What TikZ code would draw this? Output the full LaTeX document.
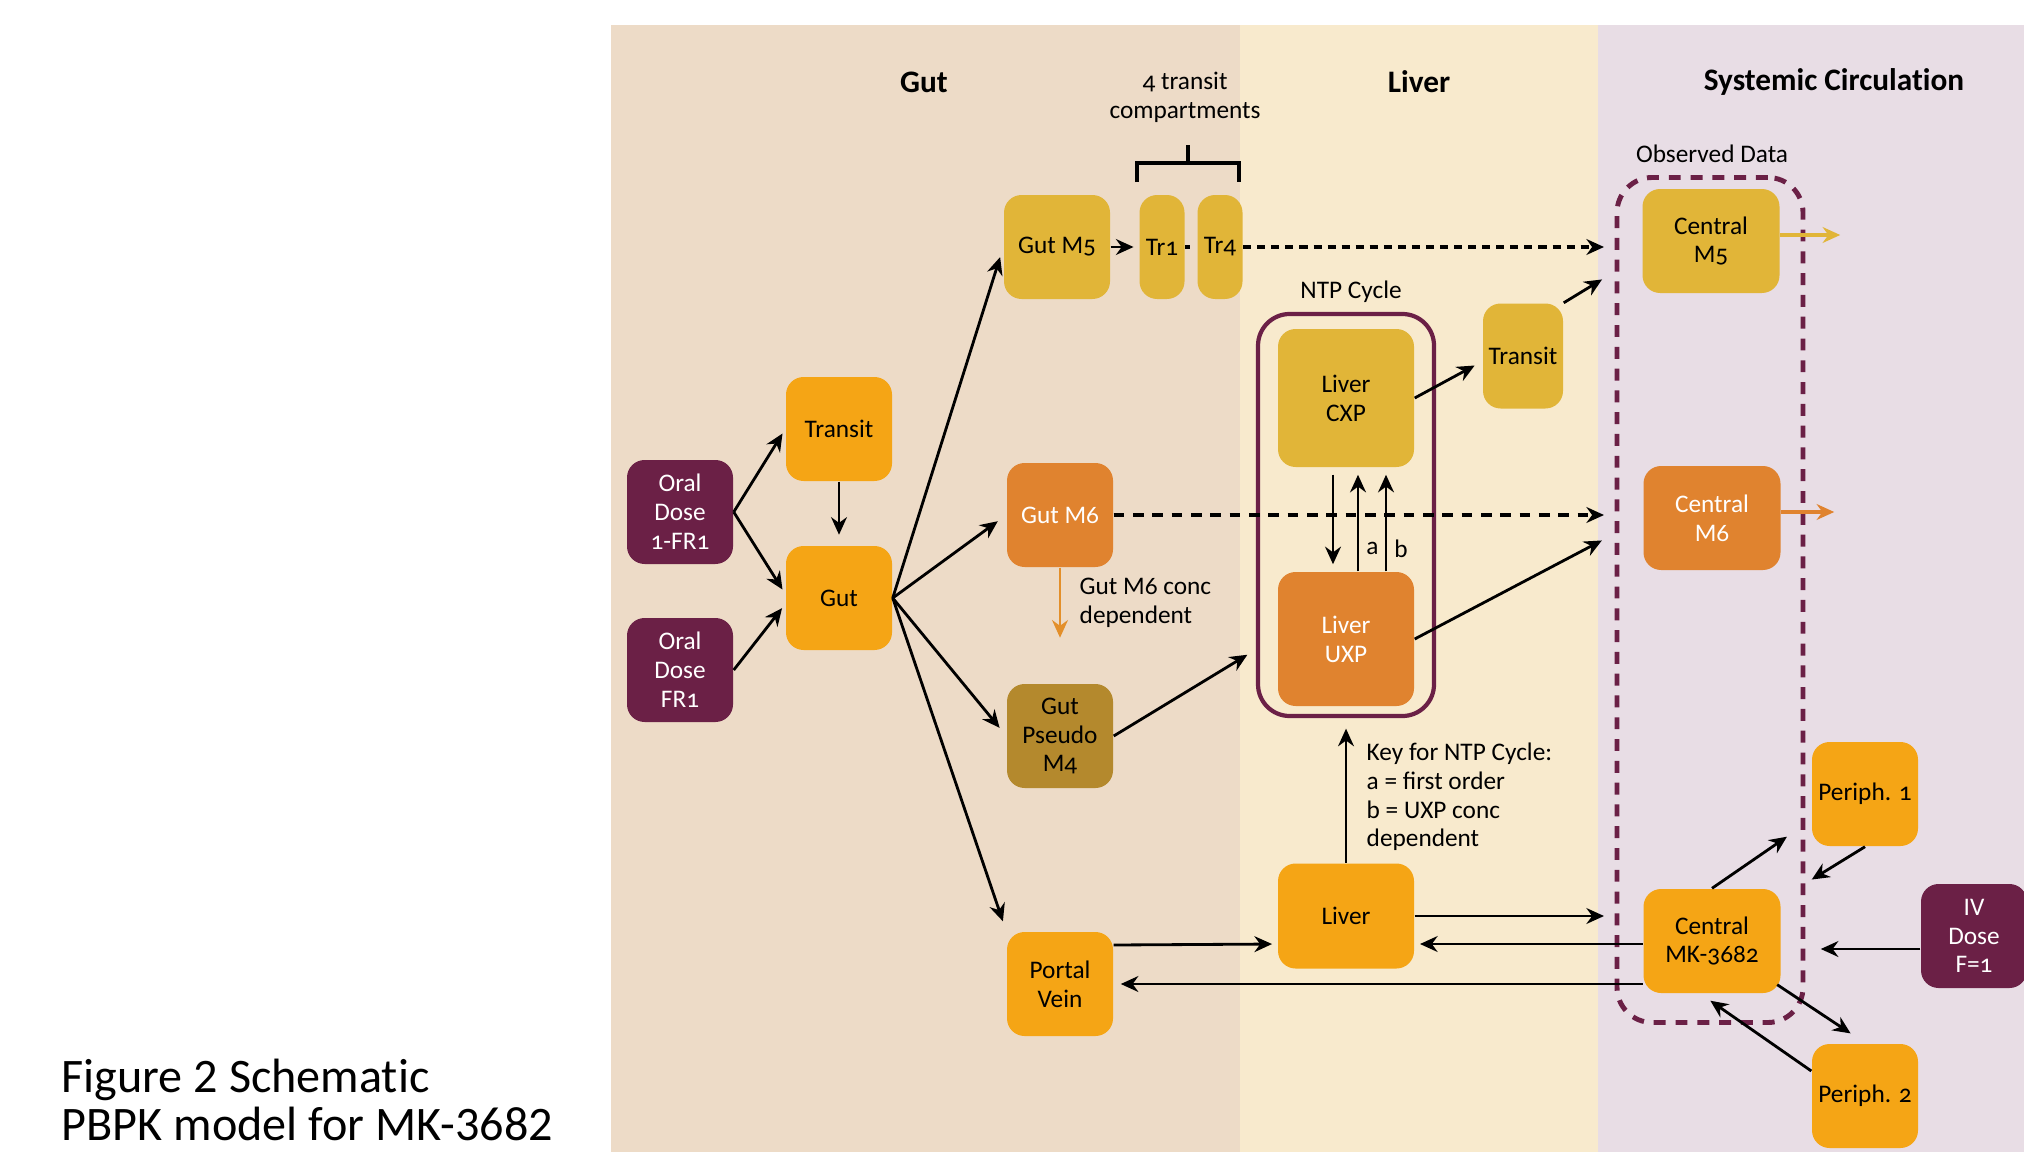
\documentclass[tikz,border=0pt]{standalone}
\usepackage{fontspec}
\setmainfont{Carlito}[Numbers=OldStyle]
\newfontfamily\capfont{Carlito}[Ligatures=NoCommon]
\newfontfamily\titlefont{Carlito}[Ligatures=NoCommon]
\usepackage{xcolor}
\usepackage{tikz}
\usetikzlibrary{arrows.meta, positioning, calc}

\definecolor{dosepurple}{HTML}{6B2046}
\definecolor{gutorange}{HTML}{F5A515}
\definecolor{mustard}{HTML}{E1B538}
\definecolor{darkorange}{HTML}{E0832F}
\definecolor{pseudobrown}{HTML}{B4892D}
\definecolor{gutbg}{HTML}{EDDBC7}
\definecolor{liverbg}{HTML}{F8EACD}
\definecolor{sysbg}{HTML}{E8DDE5}

\tikzset{
  box/.style={rectangle, rounded corners=5pt, minimum width=1.06cm, minimum height=1.04cm,
    inner sep=1pt, align=center, font=\fontsize{7.2}{8.2}\selectfont},
  dosebox/.style={box, fill=dosepurple, text=white},
  orbox/.style={box, fill=gutorange},
  mubox/.style={box, fill=mustard},
  dobox/.style={box, fill=darkorange, text=white},
  lbl/.style={font=\fontsize{7.2}{8.2}\selectfont, inner sep=0pt},
  title/.style={font=\titlefont\bfseries\fontsize{8.9}{10}\selectfont},
  arr/.style={-{Stealth[length=5pt,width=4.5pt]}, line width=0.8pt, shorten >=1.5pt},
  dotarrow/.style={arr, line width=1pt, dash pattern=on 2.3pt off 1.7pt},
  dasharrow/.style={arr, line width=0.9pt, dash pattern=on 3pt off 2.5pt}
}

\begin{document}
\begin{tikzpicture}
  \useasboundingbox (0,0) rectangle (20.24,-11.52);

  % Backgrounds of the three regions
  \fill[gutbg] (6.11,-0.25) rectangle (12.40,-11.52);
  \fill[liverbg] (12.40,-0.25) rectangle (15.98,-11.52);
  \fill[sysbg] (15.98,-0.25) rectangle (20.24,-11.52);

  % Region titles
  \node[title] (tgut) at (9.24,-0.82) {Gut};
  \node[title] (tliver) at (14.19,-0.82) {Liver};
  \node[title] (tsys) at (18.34,-0.82) {Systemic Circulation};

  % Caption
  \node[anchor=base west, inner sep=0pt, font=\capfont\fontsize{13.7}{14}\selectfont] (cap1) at (0.61,-10.92) {Figure 2 Schematic};
  \node[anchor=base west, inner sep=0pt, font=\capfont\fontsize{13.7}{14}\selectfont] (cap2) at (0.61,-11.40) {PBPK model for MK-3682};

  % Gut compartments
  \node[dosebox] (oral1) at (6.80,-5.12) {Oral\\Dose\\1-FR1};
  \node[dosebox] (oral2) at (6.80,-6.70) {Oral\\Dose\\FR1};
  \node[orbox] (transitG) at (8.39,-4.29) {Transit};
  \node[orbox] (gut) at (8.39,-5.98) {Gut};
  \node[mubox] (gutM5) at (10.57,-2.47) {Gut M5};
  \node[mubox, minimum width=0.45cm, inner sep=0pt] (tr1) at (11.62,-2.47) {Tr1};
  \node[mubox, minimum width=0.45cm, inner sep=0pt] (tr4) at (12.20,-2.47) {Tr4};
  \node[dobox] (gutM6) at (10.60,-5.15) {Gut M6};
  \node[box, fill=pseudobrown] (gutM4) at (10.60,-7.36) {Gut\\Pseudo\\M4};
  \node[orbox] (portal) at (10.60,-9.84) {Portal\\Vein};

  % Transit bracket
  \node[lbl, align=center] (trlbl) at (11.85,-0.97) {4 transit\\compartments};
  \draw[line width=0.9pt] (11.37,-1.82) -- (11.37,-1.63) -- (12.39,-1.63) -- (12.39,-1.82);
  \draw[line width=0.9pt] (11.88,-1.63) -- (11.88,-1.45);

  % Liver compartments
  \node[lbl] (ntplbl) at (13.51,-2.92) {NTP Cycle};
  \node[draw=dosepurple, line width=1.2pt, rounded corners=9pt, minimum width=1.76cm, minimum height=4.02cm] (ntp) at (13.46,-5.15) {};
  \node[mubox, minimum width=1.36cm, minimum height=1.38cm] (liverCXP) at (13.46,-3.98) {Liver\\CXP};
  \node[dobox, minimum width=1.36cm, minimum height=1.34cm] (liverUXP) at (13.46,-6.39) {Liver\\UXP};
  \node[mubox, minimum width=0.80cm, minimum height=1.05cm, inner sep=0pt] (transitL) at (15.23,-3.56) {Transit};
  \node[orbox, minimum width=1.36cm, minimum height=1.05cm] (liver) at (13.46,-9.16) {Liver};
  \node[lbl, anchor=west, align=left, font=\fontsize{7.2}{8.2}\selectfont] (key) at (13.66,-7.97) {Key for NTP Cycle:\\a = first order\\b = UXP conc\\dependent};

  % Systemic circulation
  \node[lbl] (obslbl) at (17.12,-1.54) {Observed Data};
  \node[draw=dosepurple, line width=1.4pt, dash pattern=on 3.4pt off 2.8pt, rounded corners=10pt, minimum width=1.86cm, minimum height=8.45cm] (obs) at (17.10,-6.00) {};
  \node[mubox, minimum width=1.37cm] (centralM5) at (17.11,-2.41) {Central\\M5};
  \node[dobox, minimum width=1.37cm] (centralM6) at (17.12,-5.18) {Central\\M6};
  \node[orbox, minimum width=1.37cm] (centralMK) at (17.12,-9.41) {Central\\MK-3682};
  \node[orbox] (periph1) at (18.65,-7.94) {Periph. 1};
  \node[orbox] (periph2) at (18.65,-10.96) {Periph. 2};
  \node[dosebox] (ivDose) at (19.74,-9.36) {IV\\Dose\\F=1};

  % Gut arrows
  \draw[arr] (oral1.east) -- (transitG.west);
  \draw[arr] (oral1.east) -- ([yshift=0.04cm]gut.west);
  \draw[arr] (oral2.east) -- ([yshift=-0.06cm]gut.west);
  \draw[arr, shorten >=3pt] (transitG.south) -- (gut.north);
  \draw[arr, shorten >=3pt] (gut.east) -- (gutM5.west);
  \draw[arr, shorten >=3pt] (gut.east) -- (gutM6.west);
  \draw[arr, shorten >=3pt] (gut.east) -- (gutM4.west);
  \draw[arr, shorten >=3pt] (gut.east) -- (portal.north west);
  \draw[arr] (gutM5.east) -- (tr1.west);
  \draw[line width=1pt, dash pattern=on 1.5pt off 2pt] (tr1.east) -- (tr4.west);
  \draw[dotarrow, shorten >=3pt] (tr4.east) -- (tr4.east -| obs.west);
  \draw[dasharrow, shorten >=3pt] (gutM6.east) -- (gutM6.east -| obs.west);
  \draw[-{Stealth[length=5pt,width=4.5pt]}, line width=0.8pt, darkorange!90!yellow] (gutM6.south) -- ++(0,-0.70);
  \node[lbl, anchor=west, align=left] (m6lbl) at (10.79,-6.03) {Gut M6 conc\\dependent};
  \draw[arr] (gutM4.east) -- ($(ntp.west |- liverUXP)+(-0.04,-0.13)$);

  % NTP cycle
  \draw[arr, shorten <=2pt, shorten >=2pt] ([xshift=-0.13cm]liverCXP.south) -- ([xshift=-0.13cm]liverUXP.north);
  \draw[arr, shorten >=2pt] ([xshift=0.12cm]liverUXP.north) -- ([xshift=0.12cm]liverCXP.south)
    node[lbl, pos=0.22, right=2pt] (alab) {a};
  \draw[arr, shorten >=2pt] ([xshift=0.40cm]liverUXP.north) -- ([xshift=0.40cm]liverCXP.south)
    node[lbl, pos=0.22, right=2pt] (blab) {b};
  \draw[arr] (liverCXP.east) -- ($(transitL.west)+(-0.03,-0.07)$);
  \draw[arr] (transitL.north east) -- ($(centralM5.south -| obs.west)+(-0.08,0.17)$);
  \draw[arr] (liverUXP.east) -- ($(centralM6.west -| obs.west)+(-0.08,-0.2)$);
  \draw[arr, shorten >=3pt] (liver.north) -- (ntp.south);

  % Liver and portal vein exchange
  \draw[arr, shorten >=3pt] (liver.east) -- (liver.east -| obs.west);
  \draw[arr] ($(portal.east)+(0,0.39)$) -- ($(liver.west)+(0,-0.28)$);
  \draw[arr] ($(liver.east -| centralMK.west)+(0,-0.28)$) -- ($(liver.east)+(0,-0.28)$);
  \draw[arr, shorten >=2pt] (portal.east -| centralMK.west) -- (portal.east);

  % Systemic arrows
  \draw[-{Stealth[length=5pt,width=4.5pt]}, line width=0.9pt, mustard] ([yshift=0.06cm]centralM5.east) -- ++(0.6,0);
  \draw[-{Stealth[length=5pt,width=4.5pt]}, line width=0.9pt, darkorange] ([yshift=0.06cm]centralM6.east) -- ++(0.53,0);
  \draw[arr] (centralMK.north) -- ($(periph1.south west)+(-0.2,0.13)$);
  \draw[arr] (periph1.south) -- ($(centralMK.north east)+(0.26,0.06)$);
  \draw[arr] ($(centralMK.south east)+(-0.04,0.09)$) -- ($(periph2.north)+(-0.1,0.07)$);
  \draw[arr] ($(periph2.west)+(0,0.25)$) -- ($(centralMK.south)+(-0.06,-0.04)$);
  \draw[arr] ([yshift=-0.13cm]ivDose.west) -- ($(obs.east |- ivDose.west)+(0.1,-0.13)$);
\end{tikzpicture}
\end{document}
